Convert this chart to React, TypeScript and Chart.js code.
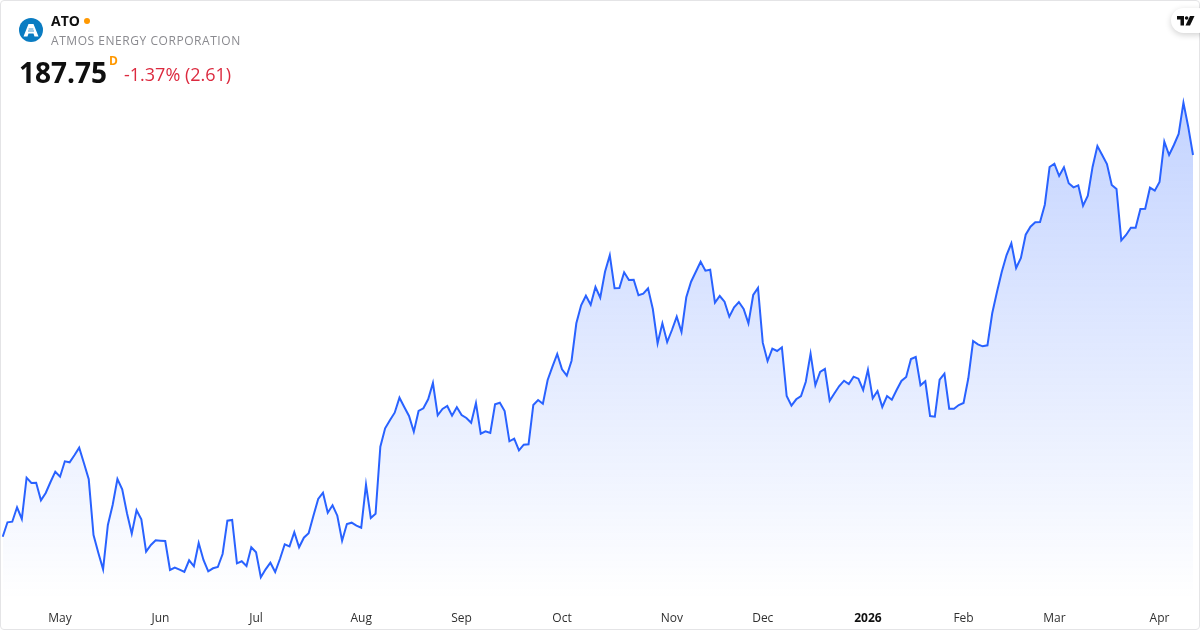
import React, { useEffect, useRef } from "react";
import { Chart, registerables } from "chart.js";

Chart.register(...registerables);

const closes: number[] = [
  149.58, 151.02, 151.08, 152.52, 151.35, 155.48, 154.95, 154.98, 153.22, 153.95,
  155.05, 156.08, 155.58, 157.12, 157.02, 157.72, 158.48, 156.92, 155.32, 149.75,
  147.98, 146.32, 150.75, 152.75, 155.35, 154.32, 151.92, 149.88, 152.22, 151.32,
  148.08, 148.75, 149.22, 149.18, 149.15, 146.25, 146.48, 146.28, 146.05, 147.22,
  146.62, 148.95, 147.25, 146.12, 146.42, 146.55, 147.85, 151.18, 151.25, 146.92,
  147.12, 146.65, 148.52, 148.02, 145.52, 146.32, 146.98, 146.05, 147.35, 148.82,
  148.62, 150.02, 148.52, 149.48, 149.92, 151.68, 153.35, 153.98, 151.98, 152.72,
  151.68, 149.18, 150.85, 150.98, 150.68, 150.48, 154.78, 151.45, 151.88, 158.58,
  160.42, 161.22, 161.98, 163.48, 162.55, 161.65, 160.08, 162.15, 162.42, 163.32,
  164.95, 161.72, 162.35, 162.65, 161.68, 162.52, 161.75, 161.45, 160.98, 162.95,
  159.88, 160.12, 159.95, 162.82, 162.98, 162.15, 159.12, 159.38, 158.22, 158.78,
  158.82, 162.75, 163.25, 162.88, 165.25, 166.58, 167.85, 166.32, 165.68, 167.18,
  170.92, 172.72, 173.68, 172.78, 174.55, 173.48, 176.08, 177.72, 174.42, 174.45,
  176.02, 175.25, 175.28, 173.72, 173.88, 174.42, 172.35, 168.92, 170.92, 169.05,
  170.25, 171.58, 170.05, 173.52, 175.08, 176.08, 177.08, 176.18, 176.28, 172.98,
  173.65, 173.08, 171.58, 172.52, 173.05, 172.35, 170.92, 173.75, 174.45, 168.98,
  167.15, 168.38, 168.15, 168.52, 163.65, 162.68, 163.32, 163.65, 165.08, 167.88,
  164.72, 166.05, 166.35, 163.18, 163.92, 164.65, 165.18, 164.85, 165.58, 165.38,
  164.25, 166.28, 163.42, 164.15, 162.55, 163.65, 163.28, 164.25, 165.15, 165.55,
  167.35, 167.55, 164.72, 165.12, 161.65, 161.58, 165.28, 165.88, 162.38, 162.38,
  162.75, 162.95, 165.42, 169.15, 168.82, 168.62, 168.72, 171.92, 174.08, 176.08,
  177.75, 178.92, 176.45, 177.45, 179.78, 180.58, 181.02, 181.05, 182.78, 186.55,
  186.88, 185.65, 186.52, 184.92, 184.52, 184.72, 182.68, 183.68, 186.58, 188.65,
  187.75, 186.85, 184.75, 184.35, 179.22, 179.75, 180.48, 180.48, 182.35, 182.38,
  184.48, 184.18, 185.05, 189.08, 187.75, 188.75, 189.85, 192.98, 190.58, 187.75,
];

const tickLabels: string[] = ["May", "Jun", "Jul", "Aug", "Sep", "Oct", "Nov", "Dec", "2026", "Feb", "Mar", "Apr"];
const tickPositions: number[] = [12, 33, 53, 75, 96, 117, 140, 159, 181, 201, 220, 242];

const categories: string[] = closes.map((_, i) => {
  const at = tickPositions.indexOf(i);
  return at >= 0 ? tickLabels[at] : "";
});

const FONT = '"Open Sans", "Noto Sans", sans-serif';

const abs = (left: number, top: number, extra: React.CSSProperties): React.CSSProperties => ({
  position: "absolute",
  left,
  top,
  whiteSpace: "nowrap",
  fontFamily: FONT,
  ...extra,
});

export default function App() {
  const canvasRef = useRef<HTMLCanvasElement | null>(null);

  useEffect(() => {
    document.body.style.margin = "0";
    const chart = new Chart(canvasRef.current as HTMLCanvasElement, {
      type: "line",
      data: {
        labels: categories,
        datasets: [
          {
            data: closes,
            borderColor: "#2962ff",
            borderWidth: 2,
            pointRadius: 0,
            tension: 0,
            fill: "start",
            backgroundColor: (ctx: any) => {
              const area = ctx.chart.chartArea;
              if (!area) return "rgba(41,98,255,0.1)";
              const g = ctx.chart.ctx.createLinearGradient(0, area.top + 10, 0, area.bottom);
              g.addColorStop(0, "rgba(41,98,255,0.28)");
              g.addColorStop(1, "rgba(41,98,255,0)");
              return g;
            },
          },
        ],
      },
      options: {
        responsive: false,
        animation: false,
        events: [],
        layout: { padding: { left: 2.7, right: 7, top: 90, bottom: 0 } },
        plugins: { legend: { display: false }, tooltip: { enabled: false } },
        scales: {
          x: {
            type: "category",
            offset: false,
            grid: { display: false, drawTicks: false },
            border: { display: false },
            afterFit: (scale: any) => {
              scale.height = 30;
              scale.paddingLeft = 0;
              scale.paddingRight = 0;
            },
            ticks: {
              autoSkip: false,
              maxRotation: 0,
              minRotation: 0,
              padding: 11,
              color: (ctx: any) => (ctx.tick && ctx.tick.label === "2026" ? "#0f0f0f" : "#303030"),
              font: (ctx: any) =>
                ctx.tick && ctx.tick.label === "2026"
                  ? { family: FONT, size: 12, weight: "bold" }
                  : { family: FONT, size: 12, weight: "normal" },
              callback: (_v: any, i: number) => categories[i],
            },
          },
          y: { display: false, min: 143.25, max: 194.25 },
        },
      },
    } as any);
    return () => chart.destroy();
  }, []);

  return (
    <div style={{ position: "absolute", left: 0, top: 0, width: 1200, height: 630, background: "#fff", overflow: "hidden" }}>
      <canvas ref={canvasRef} width={1200} height={630} style={{ position: "absolute", left: 0, top: 0, display: "block" }} />
      <div style={{ position: "absolute", left: 0, top: 0, width: 1198, height: 628, border: "1px solid #e4e4e6", borderRadius: 4, pointerEvents: "none" }} />
      <svg width="24" height="24" viewBox="0 0 24 24" style={{ position: "absolute", left: 19, top: 18 }}>
        <circle cx="12" cy="12" r="12" fill="#0a7cc2" />
        <path d="M4.5 18.5 L9.5 6 H14.5 L19.5 18.5 H15.5 L14.5 15.5 H9.5 L8.5 18.5 Z" fill="#fff" />
        <path d="M9.6 11 H14.4 M9 13 H15" stroke="#0a7cc2" strokeWidth="0.8" />
      </svg>
      <div style={abs(51, 12, { fontSize: 14, fontWeight: 700, lineHeight: "18px", color: "#0f0f0f" })}>ATO</div>
      <div style={{ position: "absolute", left: 84, top: 18, width: 6, height: 6, borderRadius: 3, background: "#ff9800" }} />
      <div style={abs(51, 32, { fontSize: 12, lineHeight: "18px", letterSpacing: 0.55, color: "#8a8a8f" })}>ATMOS ENERGY CORPORATION</div>
      <div style={abs(19, 54, { fontSize: 28, fontWeight: 700, lineHeight: "36px", color: "#0f0f0f" })}>187.75</div>
      <div style={abs(109, 53, { fontSize: 12, fontWeight: 700, lineHeight: "16px", color: "#ff9800" })}>D</div>
      <div style={abs(124, 62, { fontSize: 18, lineHeight: "24px", color: "#dc2a3f" })}>-1.37% (2.61)</div>
      <div style={{ position: "absolute", left: 1171, top: 8, width: 40, height: 25, borderRadius: 13, background: "#fff", boxShadow: "0 2px 6px rgba(0,0,0,0.18)" }} />
      <svg width="18" height="10" viewBox="0 0 18 10" style={{ position: "absolute", left: 1177, top: 16 }}>
        <path d="M0 0 H7 V9.5 H3.5 V3.5 H0 Z" fill="#0f0f0f" />
        <circle cx="9.6" cy="2" r="1.8" fill="#0f0f0f" />
        <path d="M13 0 H17.5 L13 9.5 H8.5 Z" fill="#0f0f0f" />
      </svg>
    </div>
  );
}
